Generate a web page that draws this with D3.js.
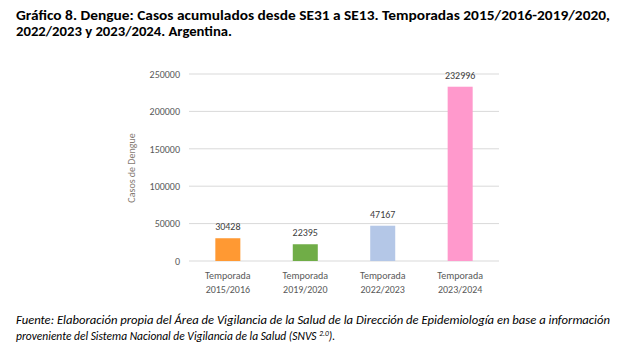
<!DOCTYPE html>
<html><head><meta charset="utf-8">
<script src="https://cdn.jsdelivr.net/npm/d3@7/dist/d3.min.js"></script>
<style>body{margin:0;background:#fff}svg{display:block}</style>
</head><body>
<script>
const categories = ["Temporada\n2015/2016", "Temporada\n2019/2020", "Temporada\n2022/2023", "Temporada\n2023/2024"];
const values = [30428, 22395, 47167, 232996];
const colors = ["#FF9933", "#70AD47", "#B4C7E7", "#FF99CC"];
const yTicks = [0, 50000, 100000, 150000, 200000, 250000];
const titleLines = ["Gráfico 8. Dengue: Casos acumulados desde SE31 a SE13. Temporadas 2015/2016-2019/2020,", "2022/2023 y 2023/2024. Argentina."];
const yAxisTitle = "Casos de Dengue";

const W = 626, H = 358;
const svg = d3.select("body").append("svg").attr("width", W).attr("height", H);
const font = "Carlito, 'Liberation Sans Narrow', 'Open Sans', sans-serif";

// title
svg.append("text").attr("x", 16).attr("y", 20).attr("font-family", font).attr("font-weight", "bold")
  .attr("font-size", 14).attr("fill", "#000").attr("textLength", 594).attr("lengthAdjust", "spacingAndGlyphs").text(titleLines[0]);
svg.append("text").attr("x", 16).attr("y", 36).attr("font-family", font).attr("font-weight", "bold")
  .attr("font-size", 14).attr("fill", "#000").attr("textLength", 216).attr("lengthAdjust", "spacingAndGlyphs").text(titleLines[1]);

const x = d3.scaleBand().domain(categories).range([189, 499]).paddingInner(0.677).paddingOuter(0.34);
const y = d3.scaleLinear().domain([0, 250000]).range([261, 74]);

// gridlines
svg.append("g").selectAll("line").data(yTicks).join("line")
  .attr("x1", 189).attr("x2", 499).attr("y1", d => y(d)).attr("y2", d => y(d))
  .attr("stroke", "#D9D9D9").attr("stroke-width", 1);

// y axis labels
const yAxis = d3.axisLeft(y).tickValues(yTicks).tickSize(0).tickPadding(0).tickFormat(d3.format("d"));
const ya = svg.append("g").attr("transform", "translate(180,0)").call(yAxis);
ya.select(".domain").remove();
ya.selectAll("text").attr("font-family", font).attr("font-size", 10).attr("fill", "#595959");

// axis title
svg.append("text").attr("transform", "translate(135,168) rotate(-90)").attr("text-anchor", "middle")
  .attr("font-family", font).attr("font-size", 10).attr("fill", "#857A72").text(yAxisTitle);

// bars
svg.append("g").selectAll("rect").data(values).join("rect")
  .attr("x", (d, i) => x(categories[i])).attr("width", x.bandwidth())
  .attr("y", d => y(d)).attr("height", d => y(0) - y(d))
  .attr("fill", (d, i) => colors[i]);

// value labels
svg.append("g").selectAll("text").data(values).join("text")
  .attr("x", (d, i) => x(categories[i]) + x.bandwidth() / 2).attr("y", d => y(d) - 8)
  .attr("text-anchor", "middle").attr("font-family", font).attr("font-size", 10).attr("fill", "#404040")
  .text(d => d);

// x labels
const xl = svg.append("g").selectAll("text").data(categories).join("text")
  .attr("text-anchor", "middle").attr("font-family", font).attr("font-size", 10).attr("fill", "#595959")
  .attr("transform", d => `translate(${x(d) + x.bandwidth() / 2},0)`);
xl.each(function(d) {
  const parts = d.split("\n");
  d3.select(this).selectAll("tspan").data(parts).join("tspan").attr("x", 0).attr("y", (p, i) => 279 + i * 14).text(p => p);
});

// footnote
svg.append("text").attr("x", 16).attr("y", 324).attr("font-family", font).attr("font-style", "italic")
  .attr("font-size", 11.5).attr("fill", "#000").attr("textLength", 594).attr("lengthAdjust", "spacingAndGlyphs")
  .text("Fuente: Elaboración propia del Área de Vigilancia de la Salud de la Dirección de Epidemiología en base a información");
const f2 = svg.append("text").attr("x", 16).attr("y", 340).attr("font-family", font).attr("font-style", "italic")
  .attr("font-size", 11.5).attr("fill", "#000");
f2.append("tspan").text("proveniente del Sistema Nacional de Vigilancia de la Salud (SNVS ");
f2.append("tspan").attr("font-size", 7.5).attr("dy", -4).text("2.0");
f2.append("tspan").attr("dy", 4).text(").");
</script>
</body></html>
